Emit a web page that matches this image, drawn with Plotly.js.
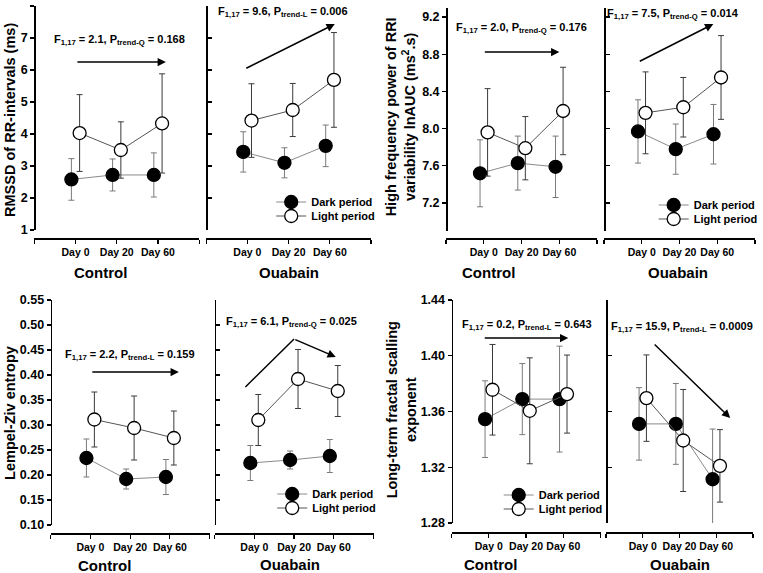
<!DOCTYPE html>
<html>
<head>
<meta charset="utf-8">
<script src="https://cdn.plot.ly/plotly-3.0.1.min.js"></script>
<style>html,body{margin:0;padding:0;background:#fff;}#chart{width:763px;height:573px;}</style>
</head>
<body>
<div id="chart"></div>
<script>
// ---------------- data ----------------
const days = ['Day 0', 'Day 20', 'Day 60'];
const groups = ['Control', 'Ouabain'];
const seriesNames = ['Dark period', 'Light period'];

// RMSSD of RR-intervals (ms)
const rmssdCtrlDark = [2.58, 2.72, 2.72];
const rmssdCtrlDarkErr = [0.65, 0.50, 0.69];
const rmssdCtrlLight = [4.03, 3.50, 4.33];
const rmssdCtrlLightErr = [1.20, 0.88, 1.55];
const rmssdOuaDark = [3.44, 3.10, 3.63];
const rmssdOuaDarkErr = [0.63, 0.47, 0.65];
const rmssdOuaLight = [4.42, 4.75, 5.69];
const rmssdOuaLightErr = [1.15, 0.83, 1.48];

// High frequency power lnAUC
const hfCtrlDark = [7.52, 7.63, 7.59];
const hfCtrlDarkErr = [0.36, 0.29, 0.33];
const hfCtrlLight = [7.96, 7.79, 8.19];
const hfCtrlLightErr = [0.47, 0.34, 0.47];
const hfOuaDark = [7.97, 7.78, 7.94];
const hfOuaDarkErr = [0.34, 0.27, 0.32];
const hfOuaLight = [8.17, 8.23, 8.55];
const hfOuaLightErr = [0.44, 0.32, 0.45];

// Lempel-Ziv entropy
const lzCtrlDark = [0.234, 0.192, 0.196];
const lzCtrlDarkErr = [0.038, 0.020, 0.035];
const lzCtrlLight = [0.311, 0.294, 0.274];
const lzCtrlLightErr = [0.055, 0.064, 0.054];
const lzOuaDark = [0.224, 0.230, 0.238];
const lzOuaDarkErr = [0.035, 0.018, 0.033];
const lzOuaLight = [0.310, 0.392, 0.368];
const lzOuaLightErr = [0.051, 0.059, 0.051];

// Long-term fractal scaling exponent
const ltCtrlDark = [1.3545, 1.3689, 1.3689];
const ltCtrlDarkErr = [0.0275, 0.0255, 0.038];
const ltCtrlLight = [1.3756, 1.3605, 1.3725];
const ltCtrlLightErr = [0.0325, 0.038, 0.028];
const ltOuaDark = [1.3511, 1.3511, 1.3114];
const ltOuaDarkErr = [0.026, 0.029, 0.036];
const ltOuaLight = [1.3696, 1.3392, 1.3210];
const ltOuaLightErr = [0.031, 0.0366, 0.026];

// statistics labels
const statLabels = [
  'F<sub>1,17</sub> = 2.1, P<sub>trend-Q</sub> = 0.168',
  'F<sub>1,17</sub> = 9.6, P<sub>trend-L</sub> = 0.006',
  'F<sub>1,17</sub> = 2.0, P<sub>trend-Q</sub> = 0.176',
  'F<sub>1,17</sub> = 7.5, P<sub>trend-Q</sub> = 0.014',
  'F<sub>1,17</sub> = 2.2, P<sub>trend-L</sub> = 0.159',
  'F<sub>1,17</sub> = 6.1, P<sub>trend-Q</sub> = 0.025',
  'F<sub>1,17</sub> = 0.2, P<sub>trend-L</sub> = 0.643',
  'F<sub>1,17</sub> = 15.9, P<sub>trend-L</sub> = 0.0009'
];
const yTitles = [
  'RMSSD of RR-intervals (ms)',
  'High frequency power of RRI<br>variability lnAUC (ms<sup>2</sup>.s)',
  'Lempel-Ziv entropy',
  'Long-term fractal scalling<br>exponent'
];

// ---------------- layout helpers ----------------
const W = 763, H = 573;
const FONT = 'Liberation Sans, Arial, Helvetica, sans-serif';
const fx = p => p / W;
const fy = p => 1 - p / H;

// subplot geometry (pixels)
const subplots = [
  {data: [[rmssdCtrlDark, rmssdCtrlDarkErr], [rmssdCtrlLight, rmssdCtrlLightErr]], xd: [34.5, 200.5], yd: [6, 230], yr: [1, 8], t0: 1, dt: 1, fmt: 'd', xline: 238, labels: true},
  {data: [[rmssdOuaDark, rmssdOuaDarkErr], [rmssdOuaLight, rmssdOuaLightErr]], xd: [207.5, 373.5], yd: [6, 230], yr: [1, 8], t0: 1, dt: 1, fmt: 'd', xline: 238, labels: false, legend: [{x: 273, y: 202}, {x: 273, y: 216}]},
  {data: [[hfCtrlDark, hfCtrlDarkErr], [hfCtrlLight, hfCtrlLightErr]], xd: [449, 601], yd: [7.7, 231], yr: [6.9, 9.3], t0: 7.2, dt: 0.4, fmt: '.1f', xline: 238, labels: true},
  {data: [[hfOuaDark, hfOuaDarkErr], [hfOuaLight, hfOuaLightErr]], xd: [608, 760], yd: [7.7, 231], yr: [6.9, 9.3], t0: 7.2, dt: 0.4, fmt: '.1f', xline: 238, labels: false, legend: [{x: 658, y: 205}, {x: 658, y: 219}]},
  {data: [[lzCtrlDark, lzCtrlDarkErr], [lzCtrlLight, lzCtrlLightErr]], xd: [51, 211], yd: [300, 525], yr: [0.10, 0.55], t0: 0.10, dt: 0.05, fmt: '.2f', xline: 533, labels: true},
  {data: [[lzOuaDark, lzOuaDarkErr], [lzOuaLight, lzOuaLightErr]], xd: [216, 376], yd: [300, 525], yr: [0.10, 0.55], t0: 0.10, dt: 0.05, fmt: '.2f', xline: 533, labels: false, legend: [{x: 274, y: 494}, {x: 274, y: 508}]},
  {data: [[ltCtrlDark, ltCtrlDarkErr], [ltCtrlLight, ltCtrlLightErr]], xd: [454.5, 604.5], yd: [300, 523], yr: [1.28, 1.44], t0: 1.28, dt: 0.04, fmt: '.2f', xline: 532, labels: true, legend: [{x: 502, y: 495}, {x: 502, y: 509}]},
  {data: [[ltOuaDark, ltOuaDarkErr], [ltOuaLight, ltOuaLightErr]], xd: [610, 758], yd: [300, 523], yr: [1.28, 1.44], t0: 1.28, dt: 0.04, fmt: '.2f', xline: 532, labels: false}
];

const seriesStyle = [
  {fill: 'black', line: '#8a8a8a', err: '#7a7a7a', off: -0.1},
  {fill: 'white', line: '#555555', err: '#3a3a3a', off: 0.1}
];

const traces = [];
const layout = {
  width: W, height: H,
  margin: {l: 0, r: 0, t: 0, b: 0},
  paper_bgcolor: 'white', plot_bgcolor: 'rgba(0,0,0,0)',
  font: {family: FONT, color: 'black'},
  showlegend: true,
  annotations: [], shapes: []
};

let legendCount = 0;
subplots.forEach((sp, i) => {
  const n = i + 1;
  const xk = n === 1 ? 'xaxis' : 'xaxis' + n;
  const yk = n === 1 ? 'yaxis' : 'yaxis' + n;
  const xr = n === 1 ? 'x' : 'x' + n;
  const yr = n === 1 ? 'y' : 'y' + n;
  const tickv = [];
  for (let v = sp.t0; v <= sp.yr[1] + 1e-9; v += sp.dt) tickv.push(+v.toFixed(4));
  layout[xk] = {
    domain: [fx(sp.xd[0]), fx(sp.xd[1])], anchor: 'free', position: fy(sp.xline),
    range: [-1, 3], tickmode: 'array', tickvals: [0, 1, 2], ticktext: days, tickangle: 0,
    ticks: 'outside', ticklen: 4, tickwidth: 1.2, tickcolor: 'black',
    minor: {tickmode: 'array', tickvals: [-1, 3], ticks: 'outside', ticklen: 4, tickwidth: 1.2, tickcolor: 'black', showgrid: false},
    showline: true, linecolor: 'black', linewidth: 1.5, showgrid: false, zeroline: false,
    tickfont: {family: FONT, size: 10.5, weight: 'bold', color: 'black'}, fixedrange: true
  };
  layout[yk] = {
    domain: [fy(sp.yd[1]), fy(sp.yd[0])], anchor: 'free', position: fx(sp.xd[0]),
    range: sp.yr, tickmode: 'array', tickvals: tickv, tickformat: sp.fmt,
    ticks: sp.labels ? 'outside' : 'inside', ticklen: 4, tickwidth: 1.2, tickcolor: 'black',
    showticklabels: sp.labels,
    showline: true, linecolor: 'black', linewidth: 1.5, showgrid: false, zeroline: false,
    tickfont: {family: FONT, size: 12.5, weight: 'bold', color: 'black'}, fixedrange: true
  };
  sp.data.forEach((pair, s) => {
    const st = seriesStyle[s];
    const tr = {
      type: 'scatter', mode: 'lines+markers', name: seriesNames[s],
      x: days.map((d, k) => k + st.off), y: pair[0],
      error_y: {type: 'data', array: pair[1], visible: true, color: st.err, thickness: 1, width: 3},
      line: {color: st.line, width: 1},
      marker: {size: 13, color: st.fill, line: {color: 'black', width: 1.3}},
      xaxis: xr, yaxis: yr, showlegend: false, hoverinfo: 'skip'
    };
    if (sp.legend) {
      legendCount++;
      const lk = legendCount === 1 ? 'legend' : 'legend' + legendCount;
      tr.showlegend = true;
      tr.legend = lk;
      layout[lk] = {
        x: fx(sp.legend[s].x), y: fy(sp.legend[s].y), xanchor: 'left', yanchor: 'middle',
        bgcolor: 'rgba(0,0,0,0)', borderwidth: 0, itemwidth: 30,
        font: {family: FONT, size: 11, weight: 'bold', color: 'black'}
      };
    }
    traces.push(tr);
  });
});

// group labels below each subplot
const groupLabelPos = [[101, 272], [291, 272], [492, 272], [682, 272], [105, 565], [292, 564], [494, 564], [684, 564]];
groupLabelPos.forEach((p, i) => {
  layout.annotations.push({xref: 'paper', yref: 'paper', x: fx(p[0]), y: fy(p[1]), text: groups[i % 2],
    showarrow: false, xanchor: 'center', yanchor: 'middle',
    font: {family: FONT, size: 15, weight: 'bold', color: 'black'}});
});

// y-axis titles
const yTitlePos = [[10, 120], [403, 117], [10, 413], [404, 410]];
yTitlePos.forEach((p, i) => {
  layout.annotations.push({xref: 'paper', yref: 'paper', x: fx(p[0]), y: fy(p[1]), text: yTitles[i],
    showarrow: false, xanchor: 'center', yanchor: 'middle', textangle: -90,
    font: {family: FONT, size: 14.5, weight: 'bold', color: 'black'}});
});

// statistics labels
const statPos = [[120, 40], [285, 12], [525, 28], [677, 14], [131, 355], [293, 322], [530, 325], [686, 327]];
statPos.forEach((p, i) => {
  layout.annotations.push({xref: 'paper', yref: 'paper', x: fx(p[0]), y: fy(p[1]), text: statLabels[i],
    showarrow: false, xanchor: 'center', yanchor: 'middle',
    font: {family: FONT, size: 11, weight: 'bold', color: 'black'}});
});

// trend arrows (tail -> head, pixels)
const arrows = [
  [77, 62, 167, 62], [247, 69, 337, 24], [487, 52, 563, 52], [643, 62, 718, 24],
  [92, 372, 180, 372], [296, 339, 338, 357], [487, 338, 572, 338], [658, 343, 735, 418]
];
arrows.forEach(a => {
  layout.annotations.push({xref: 'paper', yref: 'paper', x: fx(a[2]), y: fy(a[3]),
    ax: a[0] - a[2], ay: a[1] - a[3], axref: 'pixel', ayref: 'pixel', text: '',
    showarrow: true, arrowhead: 2, arrowsize: 1.1, arrowwidth: 1.5, arrowcolor: 'black', standoff: 0});
});
layout.shapes.push({type: 'line', xref: 'paper', yref: 'paper', x0: fx(247), y0: fy(387), x1: fx(296), y1: fy(339),
  line: {color: 'black', width: 1.5}});

Plotly.newPlot('chart', traces, layout, {staticPlot: true, displayModeBar: false});
</script>
</body>
</html>
